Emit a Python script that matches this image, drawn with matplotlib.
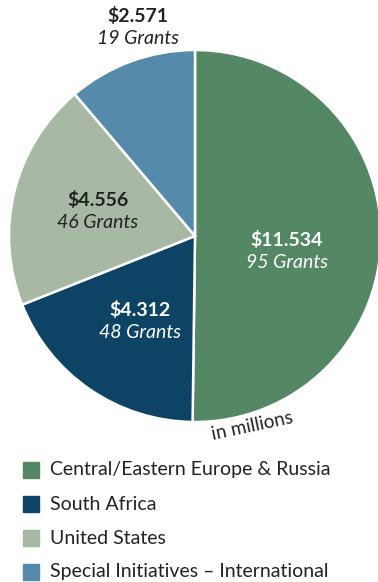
import matplotlib.pyplot as plt

regions = ["Central/Eastern Europe & Russia", "South Africa", "United States",
           "Special Initiatives – International"]
amounts = [11.534, 4.312, 4.556, 2.571]
grants = [95, 48, 46, 19]
colors = ["#548763", "#0d4466", "#a7b9a4", "#568aab"]
text_colors = ["white", "white", "#222222", "#222222"]

plt.rcParams['font.family'] = ['Lato', 'DejaVu Sans']

fig = plt.figure(figsize=(3.78, 5.82), dpi=100)
ax = fig.add_axes([0, 0, 1, 1])

# pixel-like coordinates: y grows downward, so angles run the other way
cx, cy, r = 195, 236, 186
ax.pie(amounts, colors=colors, startangle=-90, counterclock=True,
       center=(cx, cy), radius=r,
       wedgeprops=dict(edgecolor='white', linewidth=1.8))
ax.set_xlim(0, 378)
ax.set_ylim(582, 0)
ax.set_aspect('equal')
ax.axis('off')

# value labels (x, y of the bold line)
label_pos = [(287, 240), (140, 310), (98, 200), (138, 16)]
for (x, y), amt, g, tc in zip(label_pos, amounts, grants, text_colors):
    ax.text(x, y, f"${amt:.3f}", ha='center', va='center', fontsize=14,
            fontweight='bold', color=tc)
    ax.text(x, y + 22, f"{g} Grants", ha='center', va='center', fontsize=14,
            style='italic', color=tc)

ax.text(252, 426, "in millions", ha='center', va='center', fontsize=13.5,
        rotation=12, color='#222222')

# legend
for i, (name, c) in enumerate(zip(regions, colors)):
    y = 470 + i * 34
    ax.add_patch(plt.Rectangle((23, y - 8), 16, 16, color=c))
    ax.text(50, y, name, ha='left', va='center', fontsize=14, color='#222222')

fig.savefig("out.png", dpi=100)
